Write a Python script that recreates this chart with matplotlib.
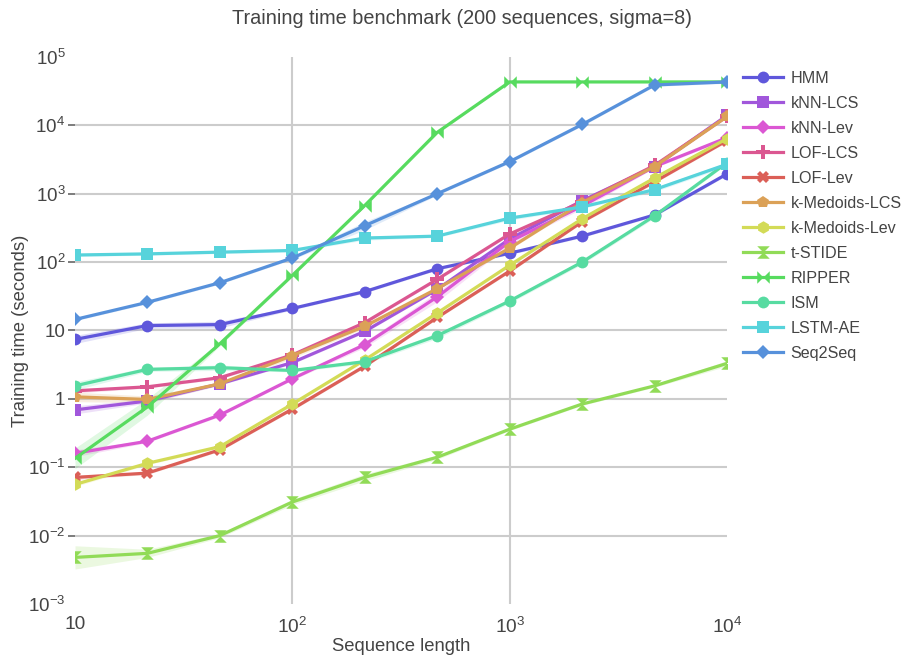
import numpy as np
import matplotlib
matplotlib.use("Agg")
import matplotlib.pyplot as plt
from matplotlib.ticker import FixedLocator, FuncFormatter, NullLocator

plt.rcParams['font.family'] = ['Liberation Sans', 'DejaVu Sans']
plt.rcParams['mathtext.fontset'] = 'custom'
plt.rcParams['mathtext.rm'] = 'Liberation Sans'
plt.rcParams['mathtext.default'] = 'regular'

# ---------------- data ----------------
seq_lengths = [10, 21.5, 46.4, 100, 215, 464, 1000, 2154, 4642, 10000]

methods = ["HMM", "kNN-LCS", "kNN-Lev", "LOF-LCS", "LOF-Lev", "k-Medoids-LCS",
           "k-Medoids-Lev", "t-STIDE", "RIPPER", "ISM", "LSTM-AE", "Seq2Seq"]

hmm = [7.4, 11.8, 12.2, 21, 37, 80, 135, 240, 490, 1950]
knn_lcs = [0.69, 0.93, 1.66, 3.4, 9.7, 40, 218, 790, 2500, 14000]
knn_lev = [0.16, 0.24, 0.58, 1.97, 6.2, 31, 200, 660, 2500, 6600]
lof_lcs = [1.31, 1.5, 2.04, 4.4, 13, 56, 258, 760, 2600, 13500]
lof_lev = [0.071, 0.082, 0.18, 0.71, 3.0, 15.5, 74, 390, 1500, 6000]
kmed_lcs = [1.07, 0.98, 1.66, 4.3, 11.5, 41, 160, 740, 2500, 13500]
kmed_lev = [0.056, 0.114, 0.2, 0.84, 3.7, 18, 90, 430, 1700, 6400]
tstide = [0.0048, 0.0055, 0.0100, 0.031, 0.071, 0.14, 0.36, 0.84, 1.55, 3.3]
ripper = [0.135, 0.76, 6.4, 64, 670, 7900, 43200, 43200, 43200, 43200]
ism = [1.55, 2.7, 2.86, 2.6, 3.5, 8.4, 27, 100, 475, 2850]
lstm_ae = [127, 132, 140, 148, 225, 240, 440, 640, 1150, 2700]
seq2seq = [14.5, 25.8, 50, 115, 340, 1000, 2950, 10300, 39000, 43200]

# half-width of the shaded variability band (decades, log10)
band_hmm = [0.06, 0.04, 0.05, 0.02, 0.02, 0.02, 0.02, 0.02, 0.02, 0.02]
band_knn_lcs = [0.06, 0.03, 0.02, 0.02, 0.02, 0.02, 0.02, 0.02, 0.02, 0.02]
band_knn_lev = [0.05, 0.02, 0.02, 0.02, 0.04, 0.07, 0.04, 0.04, 0.02, 0.02]
band_lof_lcs = [0.03, 0.02, 0.02, 0.02, 0.02, 0.02, 0.02, 0.02, 0.02, 0.02]
band_lof_lev = [0.03, 0.02, 0.02, 0.02, 0.02, 0.02, 0.02, 0.02, 0.02, 0.02]
band_kmed_lcs = [0.07, 0.05, 0.02, 0.04, 0.03, 0.02, 0.02, 0.02, 0.02, 0.02]
band_kmed_lev = [0.03, 0.02, 0.02, 0.02, 0.02, 0.02, 0.02, 0.02, 0.02, 0.02]
band_tstide = [0.17, 0.06, 0.03, 0.04, 0.05, 0.03, 0.02, 0.02, 0.02, 0.04]
band_ripper = [0.15, 0.12, 0.03, 0.02, 0.02, 0.02, 0.01, 0.01, 0.01, 0.01]
band_ism = [0.06, 0.03, 0.04, 0.02, 0.03, 0.04, 0.03, 0.03, 0.03, 0.02]
band_lstm_ae = [0.02, 0.02, 0.02, 0.02, 0.03, 0.02, 0.03, 0.02, 0.03, 0.03]
band_seq2seq = [0.02, 0.02, 0.02, 0.02, 0.06, 0.02, 0.02, 0.02, 0.02, 0.02]

series = [hmm, knn_lcs, knn_lev, lof_lcs, lof_lev, kmed_lcs, kmed_lev,
          tstide, ripper, ism, lstm_ae, seq2seq]
bands = [band_hmm, band_knn_lcs, band_knn_lev, band_lof_lcs, band_lof_lev,
         band_kmed_lcs, band_kmed_lev, band_tstide, band_ripper, band_ism,
         band_lstm_ae, band_seq2seq]

colors = ["#5f57db", "#a157db", "#db57d3", "#db5791", "#db5f57", "#dba157",
          "#d3db57", "#91db57", "#57db5f", "#57dba1", "#57d3db", "#5791db"]

hourglass = [(-1, 1), (1, 1), (-1, -1), (1, -1), (-1, 1)]
bowtie = [(-1, 1), (-1, -1), (1, 1), (1, -1), (-1, 1)]
markers = ["o", "s", "D", "P", "X", "p", "h", hourglass, bowtie, "o", "s", "D"]
msizes = [8.5, 8.5, 7.5, 9.5, 9, 9, 9, 9, 9, 8.5, 8.5, 7.5]

# ---------------- figure ----------------
fig = plt.figure(figsize=(9.04, 6.59), dpi=100)
ax = fig.add_axes([0.083, 0.0835, 0.7212, 0.83])

x = np.array(seq_lengths)
for name, y, b, c, m, ms in zip(methods, series, bands, colors, markers, msizes):
    y = np.array(y, dtype=float)
    b = np.array(b)
    ax.fill_between(x, y / 10 ** b, y * 10 ** b, color=c, alpha=0.18, lw=0, zorder=2)
    ax.plot(x, y, color=c, lw=2.3, marker=m, markersize=ms, label=name, zorder=3,
            markeredgewidth=0, clip_on=True)

ax.set_xscale("log")
ax.set_yscale("log")
ax.set_xlim(10, 10000)
ax.set_ylim(1e-3, 1e5)

def fmt(v, pos):
    e = int(round(np.log10(v)))
    if e == 0:
        return "1"
    if e == 1:
        return "10"
    s = str(e).replace("-", "\u2212")
    return r"10$^{%s}$" % s

ax.xaxis.set_major_locator(FixedLocator([10, 100, 1000, 10000]))
ax.yaxis.set_major_locator(FixedLocator([10.0 ** k for k in range(-3, 6)]))
ax.xaxis.set_minor_locator(NullLocator())
ax.yaxis.set_minor_locator(NullLocator())
ax.xaxis.set_major_formatter(FuncFormatter(fmt))
ax.yaxis.set_major_formatter(FuncFormatter(fmt))

ax.grid(True, color="#cccccc", lw=1.5, zorder=0)
ax.set_axisbelow(True)
for s in ax.spines.values():
    s.set_visible(False)
ax.tick_params(axis="y", length=5, width=1.2, color="#666666", labelsize=13.5,
               labelcolor="#444444", pad=2)
ax.tick_params(axis="x", length=0, labelsize=13.8, labelcolor="#444444", pad=9)

# no grid / tick mark at the axis edges
fig.canvas.draw()
for t in ax.yaxis.get_major_ticks():
    v = t.get_loc()
    if np.isclose(v, 1e-3) or np.isclose(v, 1e5):
        t.tick1line.set_visible(False)
        t.gridline.set_visible(False)
for t in ax.xaxis.get_major_ticks():
    v = t.get_loc()
    if np.isclose(v, 10) or np.isclose(v, 1e4):
        t.gridline.set_visible(False)

ax.set_xlabel("Sequence length", fontsize=13.3, color="#444444", va="center")
ax.set_ylabel("Training time (seconds)", fontsize=13.3, color="#444444", va="center")
ax.xaxis.set_label_coords(0.5, -0.0786)
ax.yaxis.set_label_coords(-0.084, 0.5)
fig.suptitle("Training time benchmark (200 sequences, sigma=8)", fontsize=14.3,
             color="#444444", x=0.511, y=0.987)

leg = ax.legend(loc="upper left", bbox_to_anchor=(1.015, 0.986), frameon=False,
                fontsize=11.6, labelcolor="#444444", handlelength=2.5,
                handletextpad=0.45, labelspacing=0.62, borderaxespad=0)

fig.savefig("out.png", dpi=100)
